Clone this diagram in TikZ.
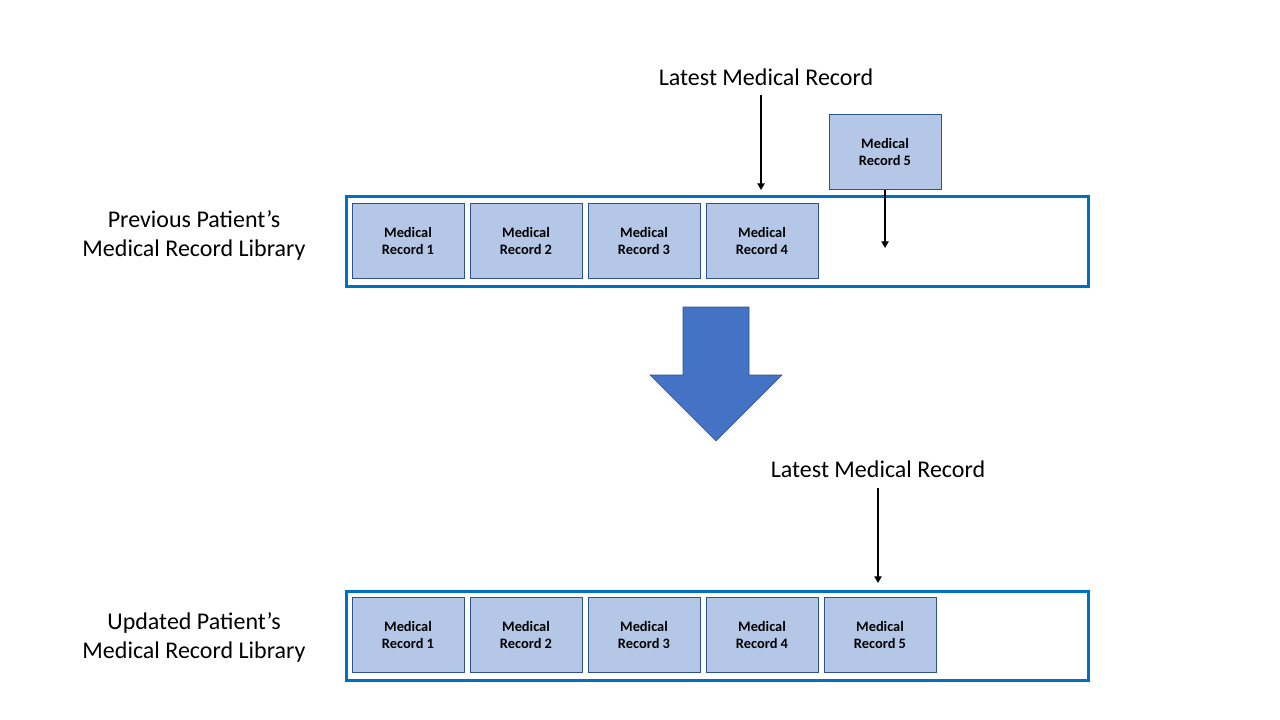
\documentclass[tikz,border=0pt]{standalone}
\usepackage{fontspec}
\setmainfont{Carlito}
\usetikzlibrary{arrows.meta}

\definecolor{libblue}{RGB}{0,112,192}
\definecolor{recfill}{RGB}{180,199,231}
\definecolor{recline}{RGB}{47,82,143}
\definecolor{bigblue}{RGB}{68,114,196}

\tikzset{
  record/.style={draw=recline, fill=recfill, line width=0.75pt, minimum width=84pt,
    minimum height=56.25pt, inner sep=0pt, align=center,
    font=\bfseries\fontsize{10.8}{12.75}\selectfont},
  library/.style={draw=libblue, line width=2.25pt},
  caption/.style={align=center, font=\fontsize{18}{21.75}\selectfont},
  pointer/.style={line width=1pt, -{Triangle[length=5pt,width=5.5pt]}}
}

\begin{document}
\begin{tikzpicture}[x=0.75pt,y=-0.75pt]
\useasboundingbox (0,0) rectangle (1280,720);

% previous library
\draw[library] (346,197) rectangle (1088,286);
\node[caption] (prevlabel) at (194,235.5) {Previous Patient’s\\Medical Record Library};
\node[record] (prev1) at (408,241) {Medical\\Record 1};
\node[record] (prev2) at (526,241) {Medical\\Record 2};
\node[record] (prev3) at (644,241) {Medical\\Record 3};
\node[record] (prev4) at (762,241) {Medical\\Record 4};
\node[record] (new5) at (885,152) {Medical\\Record 5};

\node[caption] (latesttop) at (766,77) {Latest Medical Record};
\coordinate (starttop) at (761,95);
\coordinate (tiptop) at (761,190);
\draw[pointer] (starttop) -- (tiptop);
\coordinate (slot5) at (885,248);
\draw[pointer] (new5.south) -- (slot5);

% big arrow
\draw[draw=recline, line width=0.5pt, fill=bigblue]
  (683,307) -- (749,307) -- (749,375) -- (782,375) -- (716,441)
  -- (650,375) -- (683,375) -- cycle;

% updated library
\draw[library] (346,591) rectangle (1088,680);
\node[caption] (updlabel) at (194,637) {Updated Patient’s\\Medical Record Library};
\node[record] (upd1) at (408,635) {Medical\\Record 1};
\node[record] (upd2) at (526,635) {Medical\\Record 2};
\node[record] (upd3) at (644,635) {Medical\\Record 3};
\node[record] (upd4) at (762,635) {Medical\\Record 4};
\node[record] (upd5) at (880,635) {Medical\\Record 5};

\node[caption] (latestbot) at (878,469) {Latest Medical Record};
\coordinate (startbot) at (878,488);
\coordinate (tipbot) at (878,583);
\draw[pointer] (startbot) -- (tipbot);

\end{tikzpicture}
\end{document}
